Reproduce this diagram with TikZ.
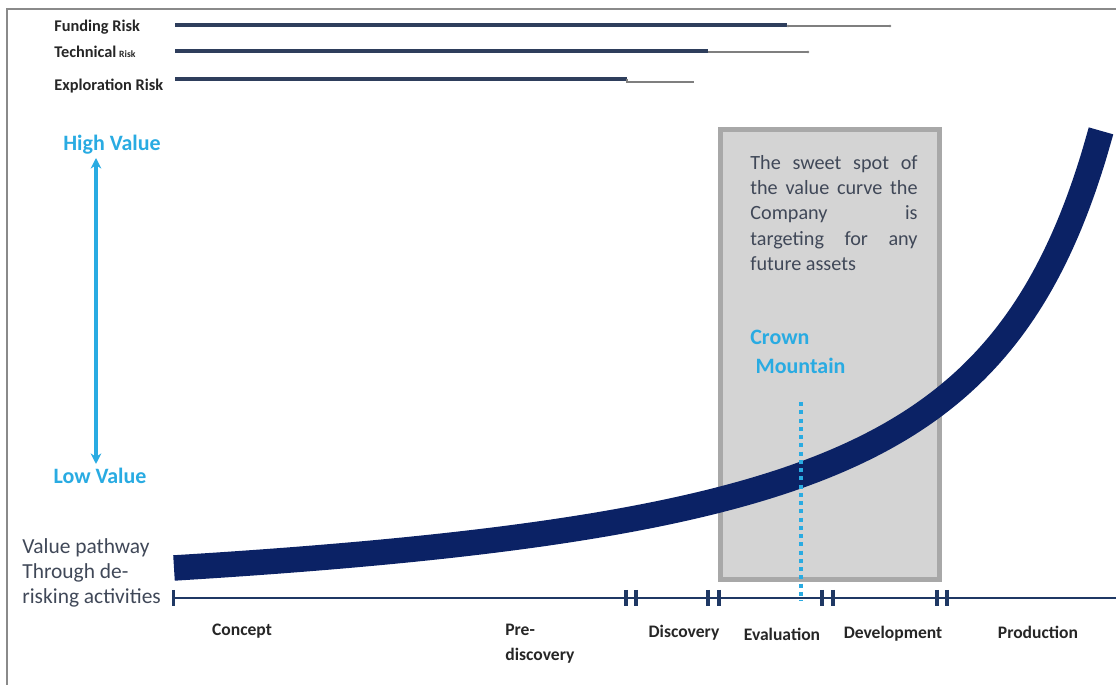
\documentclass[tikz,border=0pt]{standalone}
\usepackage{fontspec}
\setmainfont{Carlito}
\usetikzlibrary{arrows.meta}
\definecolor{navy}{HTML}{0B2265}
\definecolor{tlnavy}{HTML}{1F3864}
\definecolor{riskbar}{HTML}{2E3E5C}
\definecolor{lblue}{HTML}{29ABE2}
\definecolor{slate}{HTML}{404858}
\definecolor{boxfill}{HTML}{D4D4D4}
\definecolor{boxline}{HTML}{A8A8A8}
\definecolor{framegray}{HTML}{8A8A8A}
\definecolor{thingray}{HTML}{7F7F7F}
\definecolor{labeldark}{HTML}{262626}
\begin{document}
\begin{tikzpicture}[x=0.02cm,y=-0.02cm,
  risklabel/.style={anchor=west,inner sep=0pt,text=labeldark,font=\fontsize{9.3}{11}\selectfont\bfseries},
  thickbar/.style={draw=riskbar,line width=2.3pt},
  thinbar/.style={draw=thingray,line width=0.6pt},
  enddot/.style={fill=thingray,circle,inner sep=0pt,minimum size=1.6pt},
  valuelabel/.style={text=lblue,inner sep=0pt,font=\fontsize{12.5}{15}\selectfont\bfseries},
  vaxis/.style={draw=lblue,line width=1.8pt,{Stealth[length=6pt,width=6pt]}-{Stealth[length=6pt,width=6pt]}},
  pathtext/.style={anchor=west,inner sep=0pt,align=left,text=slate,font=\fontsize{12.2}{14.2}\selectfont},
  phase/.style={inner sep=0pt,text=labeldark,font=\fontsize{10}{14}\selectfont\bfseries},
  timeline/.style={draw=tlnavy,line width=0.9pt},
  tick/.style={draw=tlnavy,line width=1.8pt},
  curve/.style={draw=navy,line width=14.5pt},
  sweetbox/.style={draw=boxline,fill=boxfill,line width=2.8pt},
  boxtext/.style={anchor=north west,inner sep=0pt,text width=95.2pt,align=justify,text=slate,font=\fontsize{11.5}{14.4}\selectfont},
  crown/.style={anchor=west,inner sep=0pt,align=left,text=lblue,font=\fontsize{12.5}{16.4}\selectfont\bfseries},
  dotline/.style={draw=lblue,line width=2.4pt,dash pattern=on 2.3pt off 2.4pt},
  frameline/.style={draw=framegray,line width=1.2pt}
]
\useasboundingbox (0,0) rectangle (1116,685);

% frame
\coordinate (fbl) at (7,685);
\coordinate (ftl) at (7,9);
\coordinate (ftr) at (1116,9);
\draw[frameline] (fbl) -- (ftl) -- (ftr);

% risk labels and bars
\node[risklabel] (fund) at (54,27) {Funding Risk};
\node[risklabel] (tech) at (54,52) {Technical\,{\fontsize{5.5}{6}\selectfont Risk}};
\node[risklabel] (expl) at (54,86) {Exploration Risk};

\coordinate (f0) at (175,25); \coordinate (f1) at (787,25);
\coordinate (f2) at (788,26); \coordinate (f3) at (890,26);
\coordinate (t0) at (175,51); \coordinate (t1) at (708,51);
\coordinate (t2) at (708,52); \coordinate (t3) at (808,52);
\coordinate (e0) at (175,79); \coordinate (e1) at (627,79);
\coordinate (e2) at (627,82); \coordinate (e3) at (694,82);
\draw[thickbar] (f0) -- (f1);
\draw[thinbar] (f2) -- (f3);
\node[enddot] (fd1) at (f2) {}; \node[enddot] (fd2) at (f3) {};
\draw[thickbar] (t0) -- (t1);
\draw[thinbar] (t2) -- (t3);
\node[enddot] (td2) at (t3) {};
\draw[thickbar] (e0) -- (e1);
\draw[thinbar] (e1) -- (e2) -- (e3);

% value axis
\node[valuelabel] (hv) at (112,145) {High Value};
\node[valuelabel] (lv) at (100,476) {Low Value};
\coordinate (atop) at (96,158);
\coordinate (abot) at (96,464);
\draw[vaxis] (atop) -- (abot);

% sweet spot box
\coordinate (b0) at (720.5,129.5);
\coordinate (b1) at (939.5,579.5);
\draw[sweetbox] (b0) rectangle (b1);
\node[boxtext] (sweet) at (750,155) {The sweet spot of\linebreak the value curve the\linebreak Company is\linebreak targeting for any\linebreak future assets};
\node[crown] (cm) at (750,352) {Crown\\\hspace*{3pt}Mountain};

% value curve
\draw[curve] plot[domain=174:1101,samples=120,smooth] (\x,{632.9-691.3/(12.387-\x/100)});

% dotted marker
\coordinate (dtop) at (801,402);
\coordinate (dbot) at (801,601);
\draw[dotline] (dtop) -- (dbot);

% value pathway text
\node[pathtext] (vp) at (22,573) {Value pathway\\Through de-\\risking activities};

% timeline
\coordinate (l0) at (173,598);
\coordinate (l1) at (1116,598);
\draw[timeline] (l0) -- (l1);
\foreach \x in {173.5,626,636,708,719,822,833,937,947}{
  \draw[tick] (\x,590) -- (\x,606);
}

% phase labels
\node[phase] (concept) at (242,631) {Concept};
\node[phase,anchor=west,align=left,font=\fontsize{10}{14.2}\selectfont\bfseries] (prediscovery) at (505,644) {Pre-\\discovery};
\node[phase] (discovery) at (684,633) {Discovery};
\node[phase] (evaluation) at (782,634) {Evaluation};
\node[phase] (development) at (893,634) {Development};
\node[phase] (production) at (1038,632) {Production};
\end{tikzpicture}
\end{document}
